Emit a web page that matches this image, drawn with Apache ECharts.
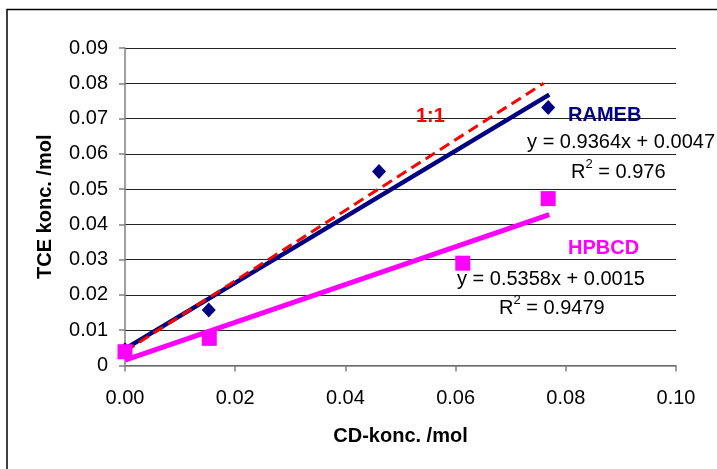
<!DOCTYPE html>
<html>
<head>
<meta charset="utf-8">
<script src="https://cdn.jsdelivr.net/npm/echarts@6/dist/echarts.min.js"></script>
<style>
html,body{margin:0;padding:0;background:#fff;}
#chart{width:717px;height:469px;}
</style>
</head>
<body>
<div id="chart"></div>
<script>
// Data
var xTicks = [0.00, 0.02, 0.04, 0.06, 0.08, 0.10];
var yTicks = [0, 0.01, 0.02, 0.03, 0.04, 0.05, 0.06, 0.07, 0.08, 0.09];
var ramebX = [0.0, 0.0152, 0.0461, 0.0768];
var ramebY = [0.0045, 0.0157, 0.0550, 0.0731];
var hpbcdX = [0.0, 0.0153, 0.0613, 0.0768];
var hpbcdY = [0.0039, 0.0077, 0.0290, 0.0473];
var ramebTrendX = [0.0, 0.077];
var ramebTrendY = [0.0047, 0.0768];
var hpbcdTrendX = [0.0, 0.077];
var hpbcdTrendY = [0.0015, 0.0428];
var oneToOneX = [0.0, 0.076];
var oneToOneY = [0.0040, 0.0800];
var labels = {
  ratio: '1:1',
  rameb: 'RAMEB',
  hpbcd: 'HPBCD',
  ramebEq: 'y = 0.9364x + 0.0047',
  ramebR2: '0.976',
  hpbcdEq: 'y = 0.5358x + 0.0015',
  hpbcdR2: '0.9479',
  xTitle: 'CD-konc. /mol',
  yTitle: 'TCE konc. /mol'
};

function pairs(xs, ys){ return xs.map(function(x,i){ return [x, ys[i]]; }); }

var FONT = '"Liberation Sans", Arial, sans-serif';
var chart = echarts.init(document.getElementById('chart'), null, {renderer:'canvas'});

function r2Text(val, x, y){
  return {
    type:'text', x:x, y:y, z:100,
    style:{
      text:'{r|R}{s|2}{r| = ' + val + '}',
      verticalAlign:'middle',
      align:'left',
      rich:{
        r:{fontFamily:FONT, fontSize:20, fill:'#000', lineHeight:24, verticalAlign:'bottom'},
        s:{fontFamily:FONT, fontSize:13, fill:'#000', lineHeight:24, verticalAlign:'top'}
      }
    }
  };
}

var option = {
  animation:false,
  backgroundColor:'#fff',
  grid:{left:125, right:41, top:48, bottom:103.5, containLabel:false},
  xAxis:{
    type:'value', min:0, max:0.1, interval:0.02,
    name:labels.xTitle, nameLocation:'middle', nameGap:61,
    nameTextStyle:{fontFamily:FONT, fontSize:20, fontWeight:'bold', color:'#000'},
    axisLine:{show:true, lineStyle:{color:'#808080', width:1.5}},
    axisTick:{show:true, length:6, lineStyle:{color:'#808080', width:1.5}},
    axisLabel:{fontFamily:FONT, fontSize:20, color:'#000', margin:23,
      formatter:function(v){ return v.toFixed(2); }},
    splitLine:{show:false}
  },
  yAxis:{
    type:'value', min:0, max:0.09, interval:0.01,
    name:labels.yTitle, nameLocation:'middle', nameGap:70,
    nameTextStyle:{fontFamily:FONT, fontSize:20, fontWeight:'bold', color:'#000'},
    axisLine:{show:true, lineStyle:{color:'#808080', width:1.5}},
    axisTick:{show:true, length:6, lineStyle:{color:'#808080', width:1.5}},
    axisLabel:{fontFamily:FONT, fontSize:20, color:'#000', margin:17,
      formatter:function(v){ return v === 0 ? '0' : v.toFixed(2); }},
    splitLine:{show:true, lineStyle:{color:'#222', width:1.2}}
  },
  series:[
    {type:'line', name:'HPBCD trend', data:pairs(hpbcdTrendX,hpbcdTrendY), showSymbol:false, symbol:'none',
      lineStyle:{color:'#FF00FF', width:5}, z:2},
    {type:'line', name:'RAMEB trend', data:pairs(ramebTrendX,ramebTrendY), showSymbol:false, symbol:'none',
      lineStyle:{color:'#000080', width:4.5}, z:3},
    {type:'line', name:'1:1', data:pairs(oneToOneX,oneToOneY), showSymbol:false, symbol:'none',
      lineStyle:{color:'#FF0000', width:3, type:[11,6]}, z:4},
    {type:'scatter', name:'RAMEB', data:pairs(ramebX,ramebY), symbol:'diamond', symbolSize:[14,15],
      itemStyle:{color:'#000080', opacity:1}, z:5},
    {type:'scatter', name:'HPBCD', data:pairs(hpbcdX,hpbcdY), symbol:'rect', symbolSize:[15,15],
      itemStyle:{color:'#FF00FF', opacity:1}, z:6}
  ],
  graphic:[
    {type:'rect', shape:{x:7, y:9.5, width:800, height:600}, style:{fill:null, stroke:'#000', lineWidth:1.5}, z:-10, silent:true},
    {type:'text', x:416, y:116, z:100, style:{text:labels.ratio, fontFamily:FONT, fontSize:20, fontWeight:'bold', fill:'#FF0000', verticalAlign:'middle'}},
    {type:'text', x:568, y:115, z:100, style:{text:labels.rameb, fontFamily:FONT, fontSize:20, fontWeight:'bold', fill:'#000080', verticalAlign:'middle'}},
    {type:'text', x:715, y:142, z:100, style:{text:labels.ramebEq, fontFamily:FONT, fontSize:20, fill:'#000', align:'right', verticalAlign:'middle'}},
    r2Text(labels.ramebR2, 571, 170),
    {type:'text', x:568, y:248, z:100, style:{text:labels.hpbcd, fontFamily:FONT, fontSize:20, fontWeight:'bold', fill:'#FF00FF', verticalAlign:'middle'}},
    {type:'text', x:457, y:279, z:100, style:{text:labels.hpbcdEq, fontFamily:FONT, fontSize:20, fill:'#000', align:'left', verticalAlign:'middle'}},
    r2Text(labels.hpbcdR2, 499, 306)
  ]
};
chart.setOption(option);
</script>
</body>
</html>
